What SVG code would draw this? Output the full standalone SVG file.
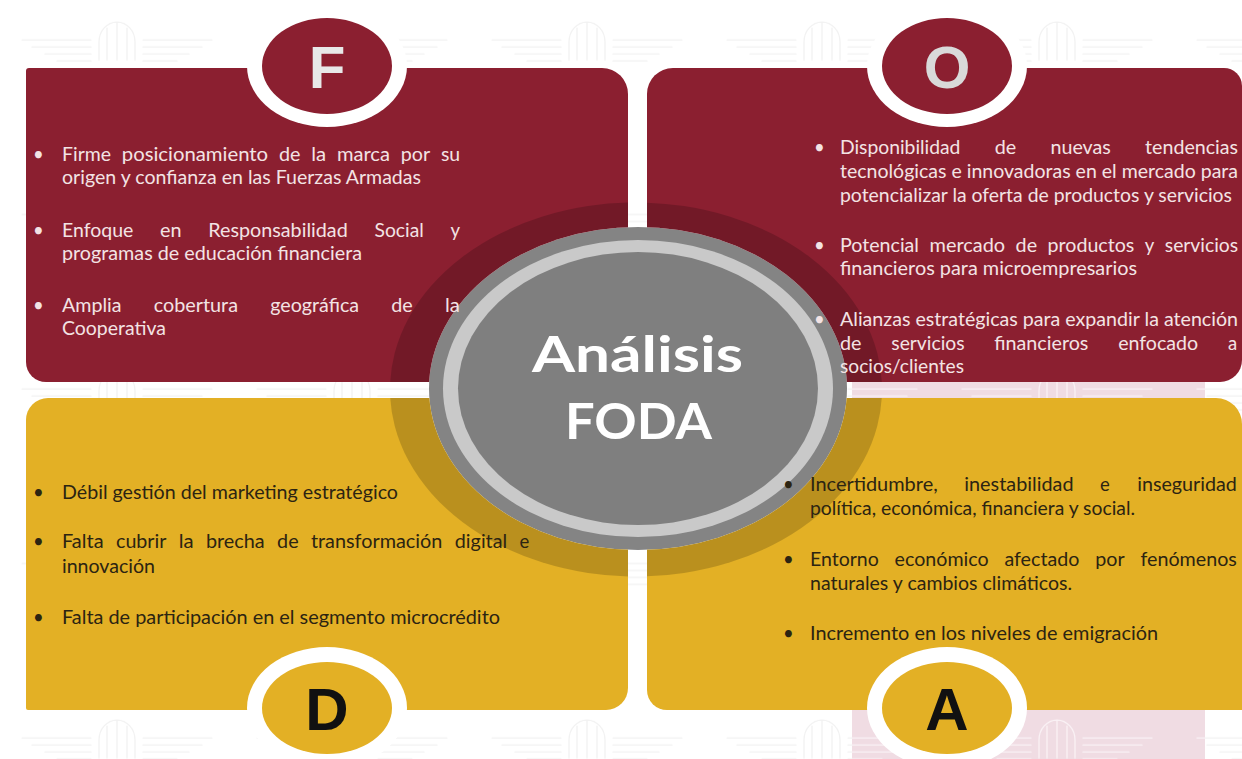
<svg xmlns="http://www.w3.org/2000/svg" width="1242" height="759" viewBox="0 0 1242 759">
  <style>
    .red { fill: #8B1F30; }
    .gold { fill: #E3B025; }
    .tint { fill: #000; fill-opacity: 0.18; }
    .ring { fill: #ffffff; }
    .lt { font-family: Lato, "Liberation Sans", sans-serif; font-size: 18.5px; fill: #f3e3e4; }
    .dk { font-family: Lato, "Liberation Sans", sans-serif; font-size: 18.5px; fill: #2c2412; }
    .badge { font-family: "Liberation Sans", Arial, sans-serif; font-weight: 700; font-size: 60px; text-anchor: middle; }
    .title { font-family: Lato, "Open Sans", sans-serif; font-weight: 700; font-size: 49px; fill: #ffffff; }
    .emblem { fill: none; stroke-width: 1.3; stroke-linecap: round; }
  </style>
  <defs>
    <!-- winged emblem used for the faint page texture -->
    <g id="emblem" class="emblem">
      <path d="M-18,40 V22 A18,20 0 0 1 18,22 V40 M0,2 V40 M-10,8 V40 M10,8 V40"/>
      <path d="M-26,20 H-95 M-26,27 H-85 M-26,34 H-72 M-26,41 H-60"/>
      <path d="M26,20 H95 M26,27 H85 M26,34 H72 M26,41 H60"/>
    </g>
    <pattern id="texture" patternUnits="userSpaceOnUse" x="0" y="0" width="235" height="174.5">
      <use href="#emblem" x="117" y="20" stroke="#F2F2F2"/>
    </pattern>
    <pattern id="texture-pink" patternUnits="userSpaceOnUse" x="0" y="0" width="235" height="174.5">
      <use href="#emblem" x="117" y="20" stroke="#FAF2F5"/>
    </pattern>
    <!-- hole where the central oval sits -->
    <mask id="outside-core" maskUnits="userSpaceOnUse" x="0" y="0" width="1242" height="759">
      <rect x="0" y="0" width="1242" height="759" fill="#fff"/>
      <ellipse cx="638" cy="388.5" rx="209" ry="161.5" fill="#000"/>
    </mask>
    <path id="shape-F" d="M29,68 H602 A26,26 0 0 1 628,94 V362 A20,20 0 0 1 608,382 H46 A20,20 0 0 1 26,362 V71 A3,3 0 0 1 29,68 Z"/>
    <path id="shape-O" d="M673,68 H1224 A18,18 0 0 1 1242,86 V360 A22,22 0 0 1 1220,382 H667 A20,20 0 0 1 647,362 V94 A26,26 0 0 1 673,68 Z"/>
    <path id="shape-D" d="M48,398 H608 A20,20 0 0 1 628,418 V688 A22,22 0 0 1 606,710 H28 A2,2 0 0 1 26,708 V420 A22,22 0 0 1 48,398 Z"/>
    <path id="shape-A" d="M667,398 H1216 A26,26 0 0 1 1242,424 V710 H667 A20,20 0 0 1 647,690 V418 A20,20 0 0 1 667,398 Z"/>
    <clipPath id="clip-F"><use href="#shape-F"/></clipPath>
    <clipPath id="clip-O"><use href="#shape-O"/></clipPath>
    <clipPath id="clip-D"><use href="#shape-D"/></clipPath>
    <clipPath id="clip-A"><use href="#shape-A"/></clipPath>
    <ellipse id="halo" cx="636" cy="389.5" rx="246" ry="187"/>
  </defs>

  <!-- page -->
  <rect x="0" y="0" width="1242" height="759" fill="#ffffff"/>
  <rect x="0" y="0" width="1242" height="759" fill="url(#texture)"/>
  <rect x="852" y="380" width="353" height="379" fill="#F0DCE3"/>
  <rect x="852" y="380" width="353" height="379" fill="url(#texture-pink)"/>

  <!-- central oval -->
  <g id="node-center">
    <ellipse cx="638" cy="388.5" rx="209" ry="161.5" fill="#848484"/>
    <ellipse cx="638" cy="388.5" rx="195" ry="148.5" fill="#C9C9C9"/>
    <ellipse cx="638" cy="388.5" rx="180" ry="136.5" fill="#7F7F7F"/>
    <text class="title" x="532" y="372" textLength="211" lengthAdjust="spacingAndGlyphs">Análisis</text>
    <text class="title" x="565" y="439" textLength="147" lengthAdjust="spacingAndGlyphs">FODA</text>
  </g>

  <g id="connectors"/>

  <!-- F: Fortalezas -->
  <g id="node-F">
    <g mask="url(#outside-core)">
      <use href="#shape-F" class="red"/>
      <use href="#halo" class="tint" clip-path="url(#clip-F)"/>
    </g>
    <ellipse class="ring" cx="327" cy="66" rx="80" ry="61"/>
    <ellipse class="red" cx="327" cy="66" rx="65" ry="48"/>
    <text class="badge" x="327" y="88" fill="#E8E8E8">F</text>
    <g class="lt">
      <text x="33" y="161">•</text>
      <text x="33" y="237">•</text>
      <text x="33" y="312">•</text>
      <text y="161"><tspan x="62" textLength="49" lengthAdjust="spacingAndGlyphs">Firme</tspan><tspan x="121.8" textLength="146.3" lengthAdjust="spacingAndGlyphs">posicionamiento</tspan><tspan x="278.9" textLength="21.5" lengthAdjust="spacingAndGlyphs">de</tspan><tspan x="311.2" textLength="14.9" lengthAdjust="spacingAndGlyphs">la</tspan><tspan x="336.9" textLength="53.1" lengthAdjust="spacingAndGlyphs">marca</tspan><tspan x="400.7" textLength="29.4" lengthAdjust="spacingAndGlyphs">por</tspan><tspan x="440.9" textLength="19.2" lengthAdjust="spacingAndGlyphs">su</tspan></text>
      <text x="62" y="184" textLength="359" lengthAdjust="spacingAndGlyphs">origen y confianza en las Fuerzas Armadas</text>
      <text y="237"><tspan x="62" textLength="71.3" lengthAdjust="spacingAndGlyphs">Enfoque</tspan><tspan x="160.1" textLength="21.5" lengthAdjust="spacingAndGlyphs">en</tspan><tspan x="208.3" textLength="139.4" lengthAdjust="spacingAndGlyphs">Responsabilidad</tspan><tspan x="374.5" textLength="49.3" lengthAdjust="spacingAndGlyphs">Social</tspan><tspan x="450.5">y</tspan></text>
      <text x="62" y="260" textLength="300" lengthAdjust="spacingAndGlyphs">programas de educación financiera</text>
      <text y="312"><tspan x="62" textLength="59.6" lengthAdjust="spacingAndGlyphs">Amplia</tspan><tspan x="153.8" textLength="84.2" lengthAdjust="spacingAndGlyphs">cobertura</tspan><tspan x="270.2" textLength="88.9" lengthAdjust="spacingAndGlyphs">geográfica</tspan><tspan x="391.3" textLength="21.5" lengthAdjust="spacingAndGlyphs">de</tspan><tspan x="445" textLength="14.9" lengthAdjust="spacingAndGlyphs">la</tspan></text>
      <text x="62" y="335" textLength="104" lengthAdjust="spacingAndGlyphs">Cooperativa</text>
    </g>
  </g>

  <!-- O: Oportunidades -->
  <g id="node-O">
    <g mask="url(#outside-core)">
      <use href="#shape-O" class="red"/>
      <use href="#halo" class="tint" clip-path="url(#clip-O)"/>
    </g>
    <ellipse class="ring" cx="947" cy="66" rx="80" ry="61"/>
    <ellipse class="red" cx="947" cy="66" rx="65" ry="48"/>
    <text class="badge" x="947" y="88" fill="#D9D9D9">O</text>
    <g class="lt">
      <text x="814" y="154">•</text>
      <text x="814" y="252">•</text>
      <text x="814" y="326">•</text>
      <text y="154"><tspan x="840" textLength="120.4" lengthAdjust="spacingAndGlyphs">Disponibilidad</tspan><tspan x="994.7" textLength="21.5" lengthAdjust="spacingAndGlyphs">de</tspan><tspan x="1050.5" textLength="60.3" lengthAdjust="spacingAndGlyphs">nuevas</tspan><tspan x="1145.1" textLength="93" lengthAdjust="spacingAndGlyphs">tendencias</tspan></text>
      <text x="840" y="178" textLength="398" lengthAdjust="spacingAndGlyphs">tecnológicas e innovadoras en el mercado para</text>
      <text x="840" y="202" textLength="392" lengthAdjust="spacingAndGlyphs">potencializar la oferta de productos y servicios</text>
      <text y="252"><tspan x="840" textLength="79" lengthAdjust="spacingAndGlyphs">Potencial</tspan><tspan x="929.5" textLength="75.6" lengthAdjust="spacingAndGlyphs">mercado</tspan><tspan x="1015.6" textLength="21.5" lengthAdjust="spacingAndGlyphs">de</tspan><tspan x="1047.6" textLength="86.7" lengthAdjust="spacingAndGlyphs">productos</tspan><tspan x="1144.8">y</tspan><tspan x="1164.8" textLength="73.3" lengthAdjust="spacingAndGlyphs">servicios</tspan></text>
      <text x="840" y="275" textLength="297" lengthAdjust="spacingAndGlyphs">financieros para microempresarios</text>
      <text x="840" y="326" textLength="398" lengthAdjust="spacingAndGlyphs">Alianzas estratégicas para expandir la atención</text>
      <text y="350"><tspan x="840" textLength="21.5" lengthAdjust="spacingAndGlyphs">de</tspan><tspan x="891.3" textLength="73.3" lengthAdjust="spacingAndGlyphs">servicios</tspan><tspan x="994.3" textLength="94.1" lengthAdjust="spacingAndGlyphs">financieros</tspan><tspan x="1118.2" textLength="80" lengthAdjust="spacingAndGlyphs">enfocado</tspan><tspan x="1227.9">a</tspan></text>
      <text x="840" y="373" textLength="124" lengthAdjust="spacingAndGlyphs">socios/clientes</text>
    </g>
  </g>

  <!-- D: Debilidades -->
  <g id="node-D">
    <g mask="url(#outside-core)">
      <use href="#shape-D" class="gold"/>
      <use href="#halo" class="tint" clip-path="url(#clip-D)"/>
    </g>
    <ellipse class="ring" cx="327" cy="708" rx="80" ry="61"/>
    <ellipse class="gold" cx="327" cy="708" rx="65" ry="46"/>
    <text class="badge" x="327" y="730" fill="#111111">D</text>
    <g class="dk">
      <text x="33" y="499">•</text>
      <text x="33" y="548">•</text>
      <text x="33" y="624">•</text>
      <text x="62" y="499" textLength="336" lengthAdjust="spacingAndGlyphs">Débil gestión del marketing estratégico</text>
      <text y="548"><tspan x="62" textLength="41.6" lengthAdjust="spacingAndGlyphs">Falta</tspan><tspan x="116" textLength="50.4" lengthAdjust="spacingAndGlyphs">cubrir</tspan><tspan x="178.7" textLength="14.9" lengthAdjust="spacingAndGlyphs">la</tspan><tspan x="205.9" textLength="58.8" lengthAdjust="spacingAndGlyphs">brecha</tspan><tspan x="277.1" textLength="21.5" lengthAdjust="spacingAndGlyphs">de</tspan><tspan x="310.9" textLength="131.5" lengthAdjust="spacingAndGlyphs">transformación</tspan><tspan x="454.8" textLength="52.4" lengthAdjust="spacingAndGlyphs">digital</tspan><tspan x="519.5">e</tspan></text>
      <text x="62" y="573" textLength="93" lengthAdjust="spacingAndGlyphs">innovación</text>
      <text x="62" y="624" textLength="438" lengthAdjust="spacingAndGlyphs">Falta de participación en el segmento microcrédito</text>
    </g>
  </g>

  <!-- A: Amenazas -->
  <g id="node-A">
    <g mask="url(#outside-core)">
      <use href="#shape-A" class="gold"/>
      <use href="#halo" class="tint" clip-path="url(#clip-A)"/>
    </g>
    <ellipse class="ring" cx="947" cy="708" rx="80" ry="61"/>
    <ellipse class="gold" cx="947" cy="708" rx="65" ry="46"/>
    <text class="badge" x="947" y="730" fill="#111111">A</text>
    <g class="dk">
      <text x="783" y="491">•</text>
      <text x="783" y="566">•</text>
      <text x="783" y="640">•</text>
      <text y="491"><tspan x="810" textLength="127.7" lengthAdjust="spacingAndGlyphs">Incertidumbre,</tspan><tspan x="964.3" textLength="109.2" lengthAdjust="spacingAndGlyphs">inestabilidad</tspan><tspan x="1100.1">e</tspan><tspan x="1137.2" textLength="99.7" lengthAdjust="spacingAndGlyphs">inseguridad</tspan></text>
      <text x="810" y="515" textLength="325" lengthAdjust="spacingAndGlyphs">política, económica, financiera y social.</text>
      <text y="566"><tspan x="810" textLength="68.8" lengthAdjust="spacingAndGlyphs">Entorno</tspan><tspan x="894.6" textLength="94" lengthAdjust="spacingAndGlyphs">económico</tspan><tspan x="1004.4" textLength="75" lengthAdjust="spacingAndGlyphs">afectado</tspan><tspan x="1095.2" textLength="29.4" lengthAdjust="spacingAndGlyphs">por</tspan><tspan x="1140.4" textLength="96.5" lengthAdjust="spacingAndGlyphs">fenómenos</tspan></text>
      <text x="810" y="590" textLength="262" lengthAdjust="spacingAndGlyphs">naturales y cambios climáticos.</text>
      <text x="810" y="640" textLength="348" lengthAdjust="spacingAndGlyphs">Incremento en los niveles de emigración</text>
    </g>
  </g>
</svg>
